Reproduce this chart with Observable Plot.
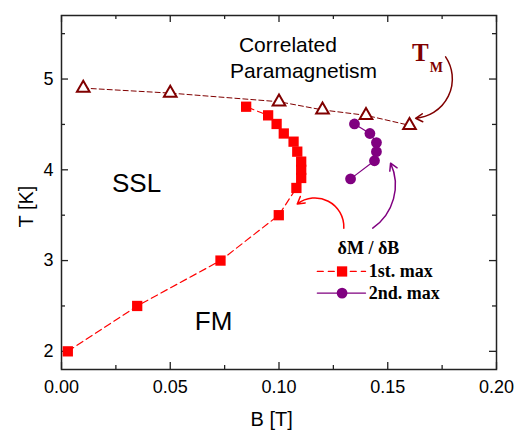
<!DOCTYPE html>
<html><head><meta charset="utf-8">
<script src="https://cdn.jsdelivr.net/npm/d3@7"></script>
<script src="https://cdn.jsdelivr.net/npm/@observablehq/plot@0.6"></script>
<style>body{margin:0;background:#fff} svg{display:block}</style>
</head><body><div id="chart"></div>
<script>
// T_M (open triangles)
const tmB = [0.01, 0.05, 0.10, 0.12, 0.14, 0.16];
const tmT = [4.90, 4.845, 4.75, 4.66, 4.60, 4.49];
// dM/dB 1st. max (red squares)
const max1B = [0.0029, 0.0348, 0.0731, 0.0999, 0.1080, 0.1102, 0.1102, 0.1102, 0.1084, 0.1067, 0.1022, 0.0989, 0.0950, 0.0849];
const max1T = [2.00, 2.50, 3.00, 3.50, 3.80, 3.91, 4.00, 4.09, 4.20, 4.31, 4.40, 4.505, 4.60, 4.695];
// dM/dB 2nd. max (purple circles)
const max2B = [0.1329, 0.1439, 0.1448, 0.1448, 0.1418, 0.1347];
const max2T = [3.90, 4.10, 4.20, 4.30, 4.40, 4.505];
// ticks
const xTicks = [0, 0.05, 0.10, 0.15, 0.20];
const xMinor = [0.025, 0.075, 0.125, 0.175];
const yTicks = [2, 3, 4, 5];
const yMinor = [2.5, 3.5, 4.5, 5.5];
// annotations (data coordinates)
const regionText = ["Correlated", "Paramagnetism", "SSL", "FM"];
const regionB = [0.1041, 0.1113, 0.0345, 0.0699];
const regionT = [5.300, 5.011, 3.760, 2.239];
const legendTitle = "δM / δB";
const legendText = ["1st. max", "2nd. max"];
const legendB = [0.1176, 0.1290, 0.1398, 0.1413, 0.1411];
const legendT = [3.075, 2.880, 2.642];
const arrowTM = {x1: 0.1766, y1: 5.245, x2: 0.1628, y2: 4.568};
const arrow1 = {x1: 0.1298, y1: 3.357, x2: 0.1084, y2: 3.624};
const arrow2 = {x1: 0.1431, y1: 3.357, x2: 0.1513, y2: 4.073};
const tmLabel = {x: 0.1612, y: 5.198, xs: 0.1693, ys: 5.080};
const xTitle = {text: "B [T]", x: 0.0966};
const yTitle = {text: "T [K]", x: -0.0131, y: 3.595};

const tm = tmB.map((b, i) => ({b, t: tmT[i]}));
const m1 = max1B.map((b, i) => ({b, t: max1T[i]}));
const m2 = max2B.map((b, i) => ({b, t: max2T[i]}));

const SANS = "Liberation Sans, Arial, sans-serif";
const SERIF = "Liberation Serif, Times New Roman, serif";
const RED = "#ff0000", PURPLE = "#800080", MAROON = "#800000", AX = "#222";
const W = 522, H = 430, ML = 61, MR = 26, MT = 15, MB = 61;
const PW = W - ML - MR, PH = H - MT - MB;
const XD = [0, 0.2], YD = [1.8, 5.7];
const xPx = (XD[1] - XD[0]) / PW, yPx = (YD[1] - YD[0]) / PH; // data units per pixel
const MAJ = 7, MIN = 4;

function tickMarks(len, xs, ys) {
  const o = {stroke: AX, strokeWidth: 1.3};
  return [
    Plot.ruleX(xs, {x: d => d, y1: YD[0], y2: YD[0] + len * yPx, ...o}),
    Plot.ruleX(xs, {x: d => d, y1: YD[1], y2: YD[1] - len * yPx, ...o}),
    Plot.ruleY(ys, {y: d => d, x1: XD[0], x2: XD[0] + len * xPx, ...o}),
    Plot.ruleY(ys, {y: d => d, x1: XD[1], x2: XD[1] - len * xPx, ...o})
  ];
}

const chart = Plot.plot({
  width: W, height: H,
  marginLeft: ML, marginRight: MR, marginTop: MT, marginBottom: MB,
  style: {fontFamily: SANS, fontSize: "18px", color: "#000", background: "#fff"},
  x: {domain: XD},
  y: {domain: YD},
  marks: [
    ...tickMarks(MAJ, xTicks, yTicks),
    ...tickMarks(MIN, xMinor, yMinor),
    // tick labels
    Plot.axisX({anchor: "bottom", ticks: xTicks, tickSize: 0, tickPadding: 11, tickFormat: d3.format(".2f"), label: null, fontSize: 18}),
    Plot.axisY({anchor: "left", ticks: yTicks, tickSize: 0, tickPadding: 8, tickFormat: d3.format("d"), label: null, fontSize: 18}),
    Plot.frame({stroke: AX, strokeWidth: 1.5}),
    // axis titles
    Plot.text([xTitle], {x: "x", text: "text", frameAnchor: "bottom", lineAnchor: "bottom", dy: 56, fontSize: 20, fill: "#000"}),
    Plot.text([yTitle], {x: "x", y: "y", text: "text", lineAnchor: "bottom", rotate: -90, fontSize: 20, fill: "#000"}),
    // data
    Plot.line(tm, {x: "b", y: "t", stroke: MAROON, strokeWidth: 1, strokeDasharray: "5,3"}),
    Plot.dot(tm, {x: "b", y: "t", symbol: "triangle", r: 4.7, stroke: MAROON, strokeWidth: 2, fill: "#fff"}),
    Plot.line(m1, {x: "b", y: "t", stroke: RED, strokeWidth: 1.2, strokeDasharray: "7,4"}),
    Plot.dot(m1, {x: "b", y: "t", symbol: "square", r: 5.8, fill: RED}),
    Plot.line(m2, {x: "b", y: "t", stroke: PURPLE, strokeWidth: 1.2}),
    Plot.dot(m2, {x: "b", y: "t", symbol: "circle", r: 5.4, fill: PURPLE}),
    // region labels
    Plot.text([0, 1], {x: i => regionB[i], y: i => regionT[i], text: i => regionText[i], lineAnchor: "bottom", fontSize: 21, fill: "#000"}),
    Plot.text([2, 3], {x: i => regionB[i], y: i => regionT[i], text: i => regionText[i], lineAnchor: "bottom", fontSize: 26, fill: "#000"}),
    // T_M label
    Plot.text([tmLabel], {x: "x", y: "y", text: () => "T", textAnchor: "start", lineAnchor: "bottom", fontFamily: SERIF, fontWeight: "bold", fontSize: 25, fill: MAROON}),
    Plot.text([tmLabel], {x: "xs", y: "ys", text: () => "M", textAnchor: "start", lineAnchor: "bottom", fontFamily: SERIF, fontWeight: "bold", fontSize: 14, fill: MAROON}),
    // arrows
    Plot.arrow([arrowTM], {x1: "x1", y1: "y1", x2: "x2", y2: "y2", bend: 60, stroke: MAROON, strokeWidth: 1.5, headLength: 8}),
    Plot.arrow([arrow1], {x1: "x1", y1: "y1", x2: "x2", y2: "y2", bend: -65, stroke: RED, strokeWidth: 1.5, headLength: 8}),
    Plot.arrow([arrow2], {x1: "x1", y1: "y1", x2: "x2", y2: "y2", bend: -40, stroke: PURPLE, strokeWidth: 1.5, headLength: 8}),
    // legend
    Plot.text([legendTitle], {x: () => legendB[4], y: () => legendT[0], text: d => d, lineAnchor: "bottom", fontFamily: SERIF, fontWeight: "bold", fontSize: 18, fill: "#000"}),
    Plot.line([0, 2], {x: i => legendB[i], y: () => legendT[1], stroke: RED, strokeWidth: 1.2, strokeDasharray: "6,5"}),
    Plot.dot([1], {x: i => legendB[i], y: () => legendT[1], symbol: "square", r: 5.8, fill: RED}),
    Plot.line([0, 2], {x: i => legendB[i], y: () => legendT[2], stroke: PURPLE, strokeWidth: 1.2}),
    Plot.dot([1], {x: i => legendB[i], y: () => legendT[2], symbol: "circle", r: 5.4, fill: PURPLE}),
    Plot.text([0, 1], {x: () => legendB[3], y: i => legendT[i + 1], text: i => legendText[i], textAnchor: "start", lineAnchor: "middle", fontFamily: SERIF, fontWeight: "bold", fontSize: 18, fill: "#000"})
  ]
});
document.getElementById("chart").appendChild(chart);
</script>
</body></html>
